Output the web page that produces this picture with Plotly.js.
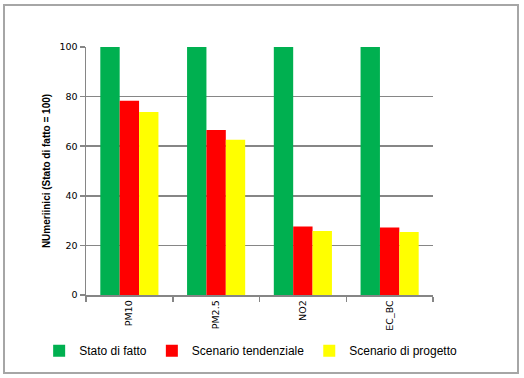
<!DOCTYPE html>
<html><head><meta charset="utf-8">
<script src="https://cdn.plot.ly/plotly-3.0.1.min.js"></script>
<style>
html,body{margin:0;padding:0;background:#fff;}
#wrap{position:relative;width:524px;height:378px;}
#chart{width:524px;height:378px;}
#frame{position:absolute;left:3px;top:4px;width:512px;height:366px;border:2px solid #a6a6a6;pointer-events:none;}
</style></head>
<body><div id="wrap"><div id="chart"></div><div id="frame"></div></div>
<script>
const categories = ["PM10", "PM2.5", "NO2", "EC_BC"];
const statoDiFatto = [100, 100, 100, 100];
const scenarioTendenziale = [78.3, 66.5, 27.6, 27.2];
const scenarioProgetto = [73.8, 62.6, 25.8, 25.4];
const seriesNames = ["Stato di fatto", "Scenario tendenziale", "Scenario di progetto"];
const yTickVals = [0, 20, 40, 60, 80, 100];

const colors = ["#00b050", "#ff0000", "#ffff00"];
const data = [statoDiFatto, scenarioTendenziale, scenarioProgetto].map((v, i) => ({
  type: "bar", x: categories, y: v, name: seriesNames[i],
  marker: {color: colors[i], line: {width: 0}}
}));

const layout = {
  width: 524, height: 378,
  margin: {l: 86, r: 91, t: 47, b: 83},
  paper_bgcolor: "#fff", plot_bgcolor: "#fff",
  barmode: "group", bargap: 0.33, bargroupgap: 0,
  showlegend: true,
  legend: {orientation: "h", x: -0.135, xanchor: "left", xref: "paper", y: -0.225, yref: "paper", yanchor: "middle",
    font: {family: "Liberation Sans, Arial, sans-serif", size: 12, color: "#000"}, itemwidth: 30, traceorder: "normal"},
  xaxis: {
    type: "category", showline: true, linecolor: "#868686", linewidth: 1.5,
    ticks: "outside", tickson: "boundaries", ticklen: 5, tickcolor: "#868686", tickwidth: 1.5,
    tickangle: -90, showgrid: false,
    tickfont: {family: "DejaVu Sans, Verdana, sans-serif", size: 9.5, color: "#000"}
  },
  yaxis: {
    range: [0, 100], tickvals: yTickVals, showline: true, linecolor: "#868686", linewidth: 1.5,
    ticks: "outside", ticklen: 5, tickcolor: "#868686", tickwidth: 1.5,
    showgrid: true, gridcolor: "#868686", gridwidth: 1.5, zeroline: false,
    tickfont: {family: "DejaVu Sans, Verdana, sans-serif", size: 9.5, color: "#000"},
    title: {text: "NUmeriinici (Stato di fatto = 100)", standoff: 7,
      font: {family: "Liberation Sans, Arial, sans-serif", size: 10, color: "#000", weight: "bold"}}
  }
};
Plotly.newPlot("chart", data, layout, {staticPlot: true, displayModeBar: false});
</script></body></html>
